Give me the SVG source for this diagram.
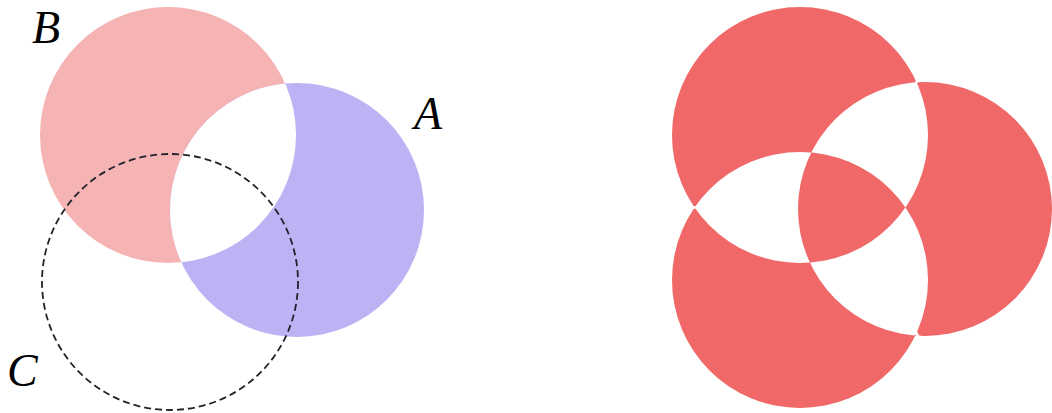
<svg xmlns="http://www.w3.org/2000/svg" width="1052" height="413" viewBox="0 0 1052 413">
<style>
.lbl{font-family:"Liberation Serif",serif;font-style:italic;font-size:46px;fill:#000}
.gap{stroke:#fff;stroke-width:2.5;fill:none}
</style>
<defs>
<clipPath id="clipA"><circle cx="297" cy="210" r="127"/></clipPath>
</defs>
<rect width="1052" height="413" fill="#fff"/>
<g id="left">
<g id="B"><circle cx="168" cy="135" r="128" fill="#f5b3b3"/></g>
<g id="A"><circle cx="297" cy="210" r="127" fill="#bbb3f3"/></g>
<g id="AB"><circle cx="168" cy="135" r="128" fill="#fff" clip-path="url(#clipA)"/></g>
<g id="C"><circle cx="170" cy="282" r="128" fill="none" stroke="#22222c" stroke-width="1.8" stroke-dasharray="7 4"/></g>
<text class="lbl" x="32" y="43">B</text>
<text class="lbl" x="414" y="129">A</text>
<text class="lbl" x="7" y="386">C</text>
</g>
<g id="right">
<path fill="#f06868" fill-rule="evenodd" d="M672,135a128,128 0 1,0 256,0a128,128 0 1,0 -256,0Z M672,280a128,128 0 1,0 256,0a128,128 0 1,0 -256,0Z M798,209a127,127 0 1,0 254,0a127,127 0 1,0 -254,0Z"/>
<g id="gaps">
<line class="gap" x1="915.5" y1="84" x2="919" y2="77"/>
<line class="gap" x1="696" y1="207.5" x2="688" y2="207.5"/>
<line class="gap" x1="915.5" y1="331" x2="919" y2="338"/>
</g>
</g>
</svg>
